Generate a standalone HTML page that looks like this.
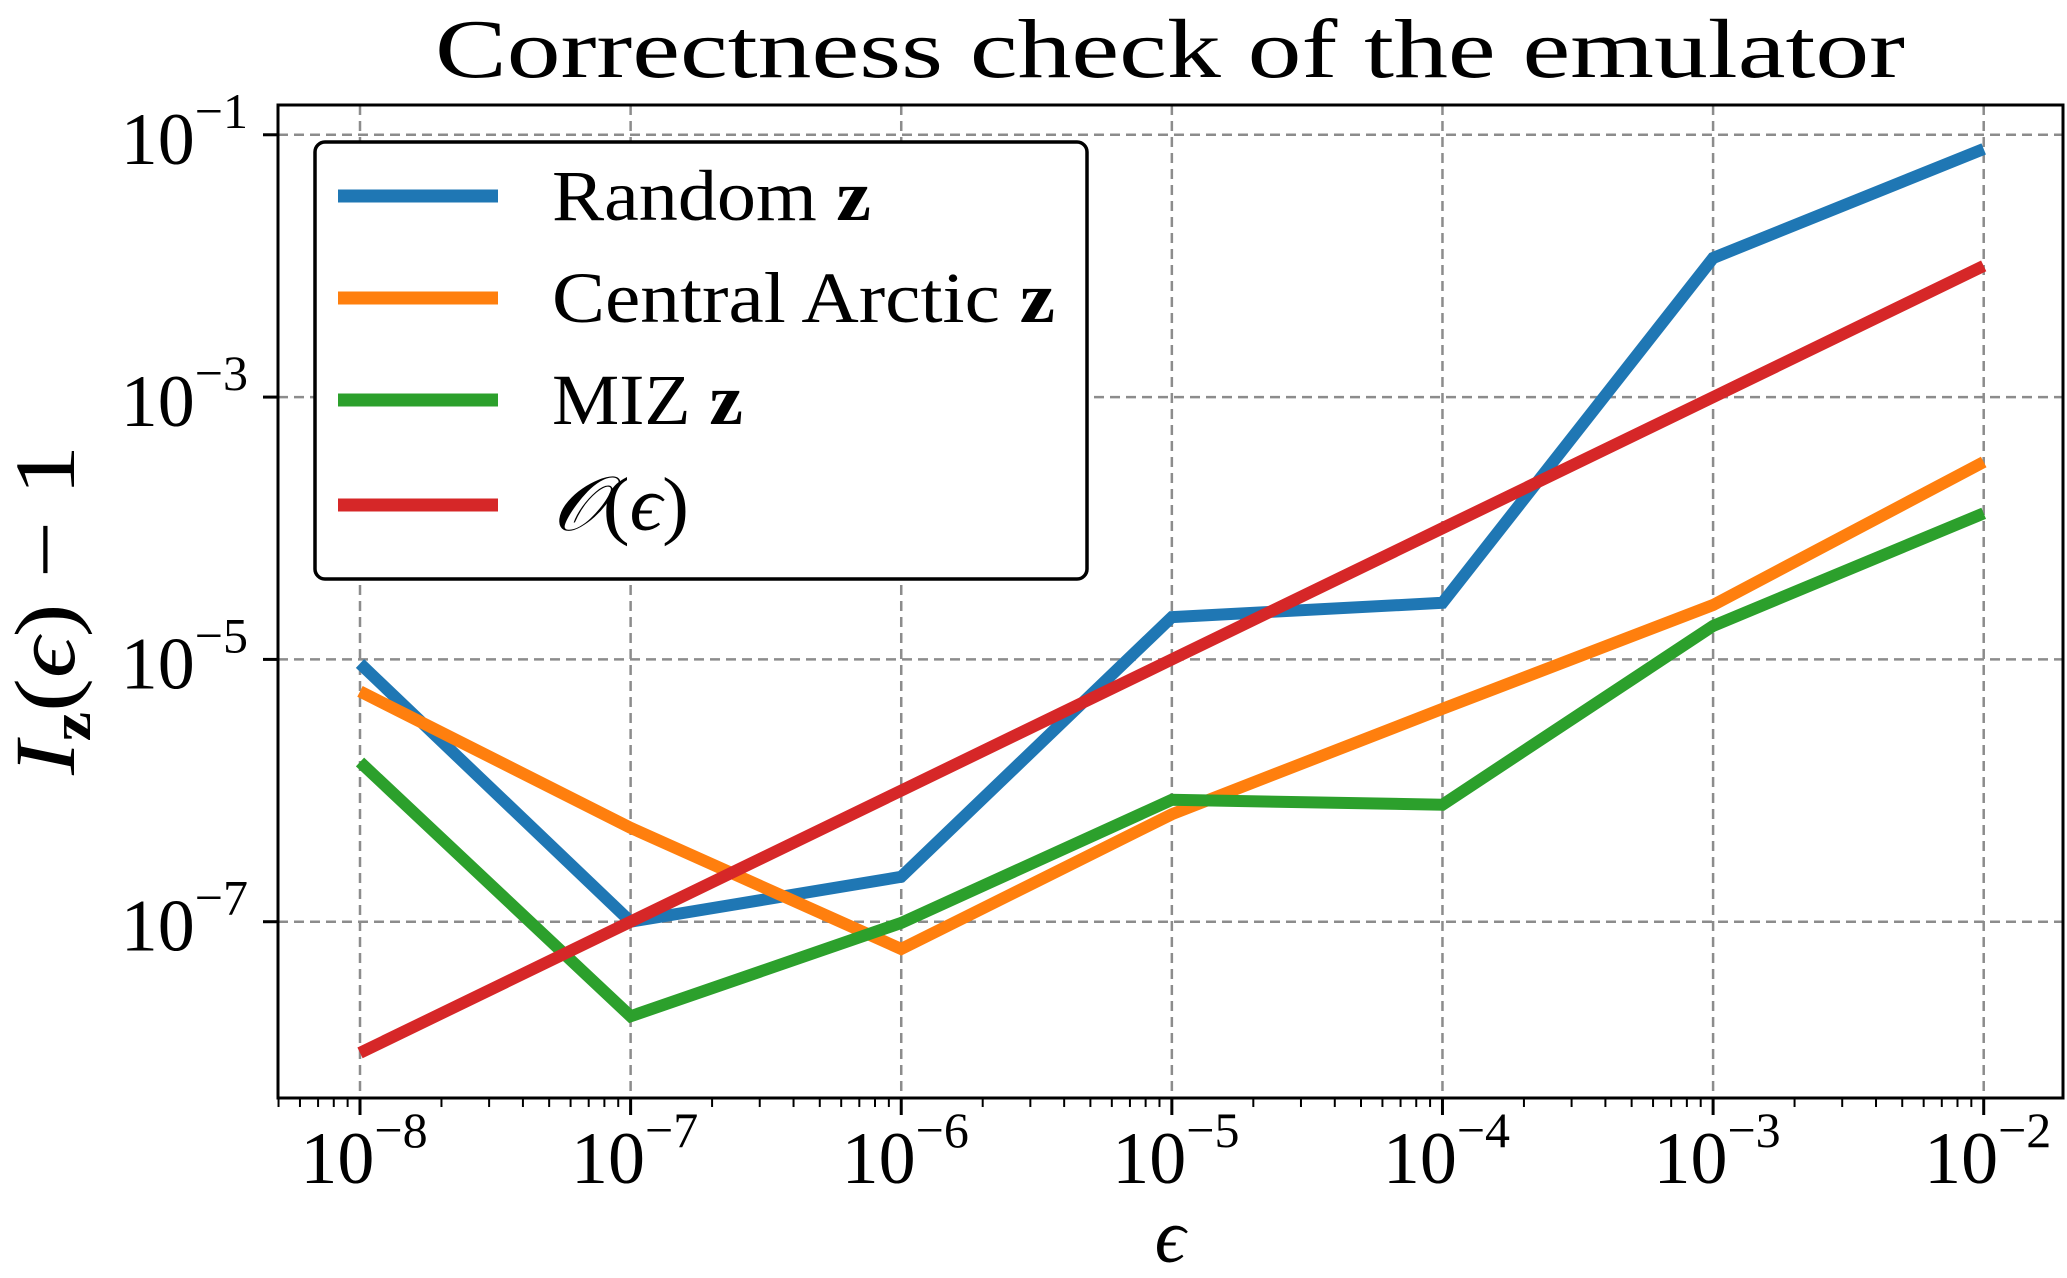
<!DOCTYPE html>
<html><head><meta charset="utf-8"><style>
html,body{margin:0;padding:0;background:#fff;}
svg{display:block;font-family:"Liberation Serif","DejaVu Serif",serif;}
</style></head><body>
<svg id="chart" width="2067" height="1278" viewBox="0 0 2067 1278" xmlns="http://www.w3.org/2000/svg">
<text x="1170" y="77" font-size="84" text-anchor="middle" textLength="1470" lengthAdjust="spacingAndGlyphs">Correctness check of the emulator</text>
<g id="grid"></g>
<g id="series"></g>
<rect x="278" y="105" width="1785" height="993" fill="none" stroke="#000" stroke-width="3"/>
<g id="ticks"></g>
<text x="1170" y="1262" font-size="76" font-style="italic" text-anchor="middle">ϵ</text>
<text transform="translate(74,610) rotate(-90)" font-size="86" text-anchor="middle" textLength="330" lengthAdjust="spacingAndGlyphs"><tspan font-style="italic">I</tspan><tspan font-size="56" font-weight="bold" dy="16">z</tspan><tspan dy="-16">(</tspan><tspan font-style="italic">ϵ</tspan><tspan>) − 1</tspan></text>
<g>
<rect x="315" y="142" width="772" height="437" rx="10" fill="#fff" stroke="#000" stroke-width="3.5"/>
<line x1="338" y1="196" x2="498" y2="196" stroke="#1f77b4" stroke-width="13"/>
<text x="552" y="220" font-size="72" textLength="319" lengthAdjust="spacingAndGlyphs">Random <tspan font-weight="bold">z</tspan></text>
<line x1="338" y1="298" x2="498" y2="298" stroke="#ff7f0e" stroke-width="13"/>
<text x="552" y="322" font-size="72" textLength="503" lengthAdjust="spacingAndGlyphs">Central Arctic <tspan font-weight="bold">z</tspan></text>
<line x1="338" y1="400" x2="498" y2="400" stroke="#2ca02c" stroke-width="13"/>
<text x="552" y="424" font-size="72" textLength="191" lengthAdjust="spacingAndGlyphs">MIZ <tspan font-weight="bold">z</tspan></text>
<line x1="338" y1="505" x2="498" y2="505" stroke="#d62728" stroke-width="13"/>
<text x="552" y="530" font-size="76" textLength="137" lengthAdjust="spacingAndGlyphs"><tspan font-style="italic">𝒪</tspan>(<tspan font-style="italic">ϵ</tspan>)</text>
</g>
</svg>
<script>
const epsValues = [1e-8, 1e-7, 1e-6, 1e-5, 1e-4, 1e-3, 1e-2];
const randomZ = [9.3e-6, 1.0e-7, 2.2e-7, 2.1e-5, 2.7e-5, 1.15e-2, 7.8e-2];
const centralArcticZ = [5.7e-6, 5.2e-7, 6.2e-8, 6.6e-7, 4.2e-6, 2.6e-5, 3.2e-4];
const mizZ = [1.65e-6, 1.9e-8, 9.8e-8, 8.5e-7, 7.8e-7, 1.8e-5, 1.3e-4];
const orderEps = [1e-8, 1e-7, 1e-6, 1e-5, 1e-4, 1e-3, 1e-2];
const xTickExps = [-8, -7, -6, -5, -4, -3, -2];
const yTickExps = [-1, -3, -5, -7];

const NS = "http://www.w3.org/2000/svg";
const L = 278, R = 2063, T = 105, B = 1098;
const xMin = -8.303, xMax = -1.707, yMin = -8.344, yMax = -0.773;
function xs(v){ return L + (Math.log10(v) - xMin) / (xMax - xMin) * (R - L); }
function ys(v){ return B - (Math.log10(v) - yMin) / (yMax - yMin) * (B - T); }
function mk(tag, attrs, parent){ const e = document.createElementNS(NS, tag); for (const k in attrs) e.setAttribute(k, attrs[k]); parent.appendChild(e); return e; }

const grid = document.getElementById('grid');
const ticks = document.getElementById('ticks');
const series = document.getElementById('series');

xTickExps.forEach(p => {
  const x = xs(Math.pow(10, p));
  const g = mk('line', {x1:x, y1:T, x2:x, y2:B, stroke:'#8c8c8c', 'stroke-width':2.5, 'stroke-dasharray':'10,6'}, grid);
  
  
  const t = mk('line', {x1:x, y1:B, x2:x, y2:B+17, stroke:'#000', 'stroke-width':3}, ticks);
  
  
  const lbl = mk('text', {x:x+4, y:1183, 'font-size':74, 'text-anchor':'middle'}, ticks);
  
  
  lbl.innerHTML = '10<tspan font-size="50" dy="-36">−' + (-p) + '</tspan>';
});
for (let p = -9; p <= -2; p++) {
  for (let m = 2; m <= 9; m++) {
    const v = m * Math.pow(10, p);
    const lv = Math.log10(v);
    if (lv < xMin || lv > xMax) continue;
    const x = xs(v);
    const t = mk('line', {x1:x, y1:B, x2:x, y2:B+9, stroke:'#000', 'stroke-width':2}, ticks);
    
    
  }
}
yTickExps.forEach(p => {
  const y = ys(Math.pow(10, p));
  const g = mk('line', {x1:L, y1:y, x2:R, y2:y, stroke:'#8c8c8c', 'stroke-width':2.5, 'stroke-dasharray':'10,6'}, grid);
  
  
  const t = mk('line', {x1:L-15, y1:y, x2:L, y2:y, stroke:'#000', 'stroke-width':3}, ticks);
  
  
  const lbl = mk('text', {x:248, y:y+29, 'font-size':74, 'text-anchor':'end'}, ticks);
  
  
  lbl.innerHTML = '10<tspan font-size="50" dy="-36">−' + (-p) + '</tspan>';
});

function drawSeries(vals, color, name){
  const pts = vals.map((v, i) => xs(epsValues[i]).toFixed(1) + ',' + ys(v).toFixed(1)).join(' ');
  const pl = mk('polyline', {points:pts, fill:'none', stroke:color, 'stroke-width':12, 'stroke-linejoin':'miter'}, series);
  
  
}
drawSeries(randomZ, '#1f77b4', 'random-z-line');
drawSeries(centralArcticZ, '#ff7f0e', 'central-arctic-z-line');
drawSeries(mizZ, '#2ca02c', 'miz-z-line');
drawSeries(orderEps, '#d62728', 'order-eps-line');
</script>
</body></html>
